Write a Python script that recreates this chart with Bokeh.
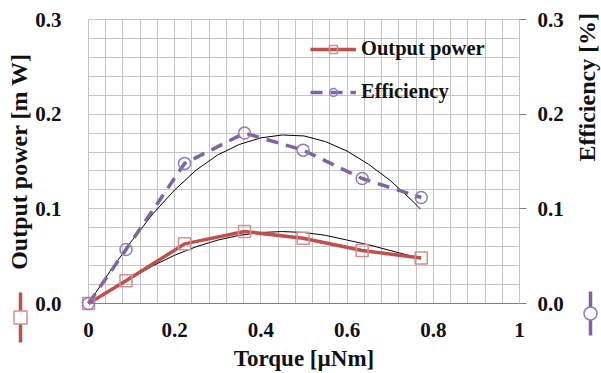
import math
from bokeh.plotting import figure
from bokeh.models import (Range1d, LinearAxis, FixedTicker, Legend, LegendItem,
                          BoxAnnotation)
from bokeh.embed import file_html
from bokeh.resources import INLINE

# ---- data ----
torque = [0.0, 0.087, 0.223, 0.362, 0.498, 0.635, 0.772]
power = [0.0, 0.024, 0.063, 0.076, 0.069, 0.056, 0.048]
efficiency = [0.0, 0.057, 0.148, 0.180, 0.162, 0.132, 0.112]

fit_torque = [0.0, 0.05, 0.1, 0.15, 0.2, 0.25, 0.3, 0.35, 0.4, 0.45, 0.5,
              0.55, 0.6, 0.65, 0.7, 0.75, 0.77]
power_fit = [0.0, 0.014, 0.027, 0.040, 0.051, 0.060, 0.067, 0.072, 0.075,
             0.076, 0.075, 0.072, 0.067, 0.062, 0.056, 0.050, 0.047]
eff_fit = [0.0, 0.034, 0.066, 0.095, 0.120, 0.141, 0.157, 0.168, 0.175,
           0.178, 0.177, 0.171, 0.161, 0.147, 0.130, 0.109, 0.100]

x_ticks = [0, 0.2, 0.4, 0.6, 0.8, 1.0]
x_tick_labels = ["0", "0.2", "0.4", "0.6", "0.8", "1"]
y_ticks = [0.0, 0.1, 0.2, 0.3]
y_tick_labels = ["0.0", "0.1", "0.2", "0.3"]

# ---- layout (pixels) ----
W, H = 601, 373
LEFT, RIGHT, TOP, BOTTOM = 88, 519, 19, 303
X0, X1, Y0, Y1 = 0.0, 1.0, 0.0, 0.3
pxx = (RIGHT - LEFT) / (X1 - X0)
pxy = (BOTTOM - TOP) / (Y1 - Y0)


def dx(px):
    return X0 + (px - LEFT) / pxx


def dy(py):
    return Y0 + (BOTTOM - py) / pxy


RED = "#c0504d"
RED_M = "#d48f8f"
PURPLE = "#8064a2"
PURPLE_M = "#8e7cc3"
GRID = "#c4c4c4"
FONT = "Liberation Serif"

xr = Range1d(dx(0), dx(W))
yr = Range1d(dy(H), dy(0))
p = figure(width=W, height=H, output_backend="svg", toolbar_location=None,
           x_range=xr, y_range=yr, min_border=0, min_border_left=0,
           min_border_right=0, min_border_top=0, min_border_bottom=0)
p.background_fill_color = "white"
p.border_fill_color = "white"
p.outline_line_color = None

# grids (plot box + minor grid)
p.xgrid.ticker = FixedTicker(ticks=[round(i * 0.04, 4) for i in range(26)])
p.ygrid.ticker = FixedTicker(ticks=[round(i * 0.02, 4) for i in range(16)])
for g in (p.xgrid, p.ygrid):
    g.grid_line_color = GRID
    g.grid_line_width = 1
try:
    p.xgrid.cross_bounds = (Y0, Y1)
    p.ygrid.cross_bounds = (X0, X1)
except Exception:
    pass
# white masks outside the plot box (in case grid cross bounds are not honoured)
e = 0.6
for kw in (dict(right=dx(LEFT - e)), dict(left=dx(RIGHT + e)),
           dict(top=dy(BOTTOM + e)), dict(bottom=dy(TOP - e))):
    p.add_layout(BoxAnnotation(level="underlay", fill_color="white", fill_alpha=1,
                               line_alpha=0, **kw))

# axes
xa = p.xaxis[0]
xa.ticker = FixedTicker(ticks=x_ticks)
xa.major_label_overrides = {t: l for t, l in zip(x_ticks, x_tick_labels)}
xa.axis_label = "Torque [\u00b5Nm]"
xa.fixed_location = Y0
xa.bounds = (X0, X1)

ya = p.yaxis[0]
ya.ticker = FixedTicker(ticks=y_ticks)
ya.major_label_overrides = {t: l for t, l in zip(y_ticks, y_tick_labels)}
ya.axis_label = "Output power [m W]"
ya.fixed_location = X0
ya.bounds = (Y0, Y1)

p.extra_y_ranges = {"eff": Range1d(dy(H), dy(0))}
ra = LinearAxis(y_range_name="eff", ticker=FixedTicker(ticks=y_ticks),
                fixed_location=X1, bounds=(Y0, Y1))
ra.major_label_overrides = {t: l for t, l in zip(y_ticks, y_tick_labels)}
ra.axis_label = "Efficiency [%]"
p.add_layout(ra, "right")
try:
    ra.axis_label_orientation = math.pi / 2
except Exception:
    pass

for ax in (xa, ya, ra):
    ax.major_label_text_font = FONT
    ax.major_label_text_font_style = "bold"
    ax.major_label_text_font_size = "21px"
    ax.major_label_text_color = "#111111"
    ax.axis_label_text_font = FONT
    ax.axis_label_text_font_style = "bold"
    ax.axis_label_text_color = "#111111"
    ax.minor_tick_line_color = None
xa.axis_label_text_font_size = "23px"
ya.axis_label_text_font_size = "24px"
ra.axis_label_text_font_size = "24px"

xa.axis_line_color = "#808080"
xa.major_tick_line_color = None
xa.major_label_standoff = 13
xa.axis_label_standoff = 6

ya.axis_line_color = None
ya.major_tick_line_color = None
ya.major_label_standoff = 21
ya.axis_label_standoff = 0

ra.axis_line_color = None
ra.major_tick_line_color = "#808080"
ra.major_tick_in = 0
ra.major_tick_out = 7
ra.major_label_standoff = 11
ra.axis_label_standoff = 20

# fitted trend curves
p.line(fit_torque, power_fit, line_color="black", line_width=1)
p.line(fit_torque, eff_fit, line_color="black", line_width=1, y_range_name="eff")

# series
pl = p.line(torque, power, line_color=RED, line_width=3.5)
ps = p.scatter(torque, power, marker="square", size=12, line_color=RED_M,
               line_width=1.5, fill_color=None)
el = p.line(torque, efficiency, line_color=PURPLE, line_width=3.5,
            line_dash="12 8", y_range_name="eff")
es = p.scatter(torque, efficiency, marker="circle", size=12, line_color=PURPLE_M,
               line_width=1.5, fill_color=None, y_range_name="eff")

legend = Legend(items=[LegendItem(label="Output power", renderers=[pl, ps]),
                       LegendItem(label="Efficiency", renderers=[el, es])],
                location=(310, 270), glyph_width=46, glyph_height=20,
                label_standoff=5, spacing=20, padding=0, margin=0,
                background_fill_alpha=0, border_line_alpha=0,
                label_text_font=FONT, label_text_font_style="bold",
                label_text_font_size="20.5px", label_text_color="#111111")
p.add_layout(legend)

# small series keys beside the axis titles (Excel-style)
p.line([dx(20), dx(20)], [dy(292), dy(342)], line_color=RED, line_width=3.5)
p.scatter([dx(20)], [dy(317)], marker="square", size=13, line_color=RED_M,
          line_width=1.5, fill_color="white")
p.line([dx(590), dx(590)], [dy(291), dy(335)], line_color=PURPLE, line_width=3.5)
p.scatter([dx(590)], [dy(313)], marker="circle", size=13, line_color=PURPLE_M,
          line_width=1.5, fill_color="white")

open("out.html", "w").write(file_html(p, INLINE))
